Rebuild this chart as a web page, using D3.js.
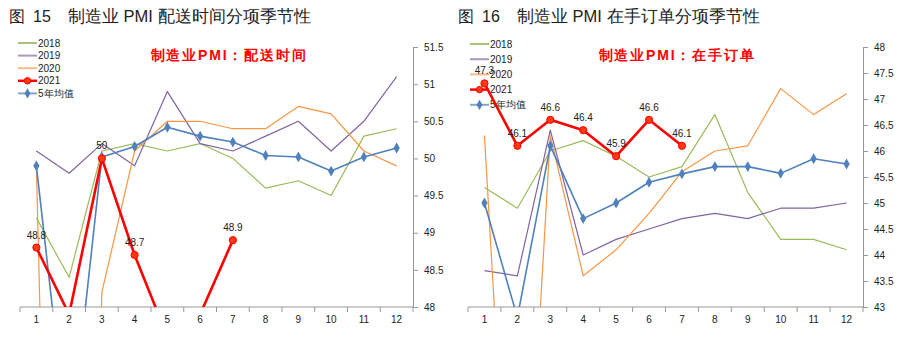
<!DOCTYPE html>
<html>
<head>
<meta charset="utf-8">
<script src="https://cdn.jsdelivr.net/npm/d3@7"></script>
<style>
  body { margin: 0; background: #fff; }
  svg { display: block; }
  text { font-family: "Liberation Sans", Arial, sans-serif; }
</style>
</head>
<body>
<svg id="chart" width="905" height="349"></svg>
<script>
// months on the x axis
var months = ["1","2","3","4","5","6","7","8","9","10","11","12"]
var seriesNames = ["2018","2019","2020","2021","5年均值"]

// PMI supplier delivery time (配送时间)
var delivery2018 = [49.2,48.4,50.1,50.2,50.1,50.2,50.0,49.6,49.7,49.5,50.3,50.4]
var delivery2019 = [50.1,49.8,50.2,49.9,50.9,50.2,50.1,50.3,50.5,50.1,50.5,51.1]
var delivery2020 = [49.9,32.1,48.2,50.1,50.5,50.5,50.4,50.4,50.7,50.6,50.1,49.9]
var delivery2021 = [48.8,47.9,50.0,48.7,47.6,47.9,48.9]
var deliveryAvg  = [49.9,46.0,50.02,50.16,50.42,50.3,50.22,50.04,50.02,49.83,50.02,50.14]
var deliveryTicks = [48,48.5,49,49.5,50,50.5,51,51.5]

// PMI backlog of orders (在手订单)
var backlog2018 = [45.3,44.9,46.0,46.2,45.9,45.5,45.7,46.7,45.2,44.3,44.3,44.1]
var backlog2019 = [43.7,43.6,46.4,44.0,44.3,44.5,44.7,44.8,44.7,44.9,44.9,45.0]
var backlog2020 = [46.3,35.3,46.3,43.6,44.1,44.8,45.6,46.0,46.1,47.2,46.7,47.1]
var backlog2021 = [47.3,46.1,46.6,46.4,45.9,46.6,46.1]
var backlogAvg  = [45.0,42.8,46.1,44.7,45.0,45.4,45.56,45.7,45.7,45.57,45.85,45.75]
var backlogTicks = [43,43.5,44,44.5,45,45.5,46,46.5,47,47.5,48]

var colors = ["#9bbb59","#8064a2","#f79646","#ff0000","#4f81bd"]
var legendColors = ["#a9c47a","#a898c0","#f9b98a","#ff0000","#86a6cf"]

var svg = d3.select("#chart")

function drawPanel(p) {
  var g = svg.append("g")
  var x = d3.scaleBand().domain(months).range([p.x0, p.x1])
  var y = d3.scaleLinear().domain(p.domain).range([p.yBottom, p.yTop])
  var cx = function(d,i){ return x(months[i]) + x.bandwidth()/2 }

  // titles
  g.append("text").attr("x", p.tx).attr("y", 22).attr("font-size", 16)
    .attr("font-family", "'Noto Sans CJK SC', sans-serif").attr("fill", "#222").text("图")
  g.append("text").attr("x", p.tx + 24).attr("y", 22).attr("font-size", 16)
    .attr("font-family", "'Noto Sans CJK SC', sans-serif").attr("fill", "#222").text(p.num)
  g.append("text").attr("x", p.tx + 59).attr("y", 22).attr("font-size", 16.5)
    .attr("font-family", "'Noto Sans CJK SC', sans-serif").attr("fill", "#222").text(p.title)
  g.append("text").attr("x", p.redX).attr("y", 60).attr("font-size", 14)
    .attr("text-anchor", "middle").attr("font-weight", "bold").attr("letter-spacing", "1.8px")
    .attr("font-family", "'Noto Sans CJK SC', sans-serif").attr("fill", "#ff0000").text(p.redTitle)

  // x axis
  var xa = g.append("g").attr("transform", "translate(0," + p.yBottom + ")")
  xa.append("line").attr("x1", p.x0).attr("x2", p.x1).attr("stroke", "#999")
  var edges = months.map(function(m){ return x(m) }).concat([p.x1])
  xa.selectAll(".tk").data(edges).enter().append("line")
    .attr("x1", function(d){ return d }).attr("x2", function(d){ return d })
    .attr("y1", 0).attr("y2", 5).attr("stroke", "#999")
  xa.selectAll(".lb").data(months).enter().append("text")
    .attr("x", function(d){ return x(d) + x.bandwidth()/2 }).attr("y", 16)
    .attr("text-anchor", "middle").attr("font-size", 10).attr("fill", "#222")
    .text(function(d){ return d })

  // right y axis
  var ya = d3.axisRight(y).tickValues(p.ticks).tickSize(5).tickPadding(6)
    .tickFormat(function(d){ return d3.format("~g")(d) })
  var yg = g.append("g").attr("transform", "translate(" + p.x1 + ",0)").call(ya)
  yg.select(".domain").attr("stroke", "#999")
  yg.selectAll(".tick line").attr("stroke", "#999")
  yg.selectAll(".tick text").attr("font-size", 10).attr("fill", "#222")
    .attr("font-family", "'Liberation Sans', Arial, sans-serif")

  // legend
  var lg = g.append("g")
  seriesNames.forEach(function(name, i) {
    var ly = p.legY + i * p.legStep
    lg.append("line").attr("x1", p.legX).attr("x2", p.legX + 19).attr("y1", ly).attr("y2", ly)
      .attr("stroke", legendColors[i]).attr("stroke-width", i == 3 ? 2.5 : 2)
    if (i == 3) lg.append("circle").attr("cx", p.legX + 9.5).attr("cy", ly).attr("r", 3.2)
      .attr("fill", "#ff3a10").attr("stroke", "#ff0000")
    if (i == 4) lg.append("path").attr("d", d3.symbol(d3.symbolDiamond, 30)())
      .attr("transform", "translate(" + (p.legX + 9.5) + "," + ly + ")").attr("fill", "#4f81bd")
    lg.append("text").attr("x", p.legX + 20).attr("y", ly + 3.5).attr("font-size", 10)
      .attr("fill", "#222").attr("font-family", "'Liberation Sans', 'Noto Sans CJK SC', sans-serif").text(name)
  })

  // series
  var clipId = "clip" + p.num
  g.append("clipPath").attr("id", clipId).append("rect")
    .attr("x", p.x0).attr("y", p.yTop - 20).attr("width", p.x1 - p.x0).attr("height", p.yBottom - p.yTop + 20)
  var plot = g.append("g").attr("clip-path", "url(#" + clipId + ")")
  var line = d3.line().x(cx).y(function(d){ return y(d) })
  var order = [0,1,2,4,3]
  order.forEach(function(k) {
    var data = p.series[k]
    plot.append("path").datum(data).attr("d", line).attr("fill", "none")
      .attr("stroke", colors[k]).attr("stroke-width", k == 3 ? 2.6 : (k == 4 ? 1.6 : 1.2))
      .attr("stroke-linejoin", "round")
    if (k == 4) {
      plot.selectAll(".dm" + k).data(data).enter().append("path")
        .attr("d", d3.symbol(d3.symbolDiamond, 34)())
        .attr("transform", function(d,i){ return "translate(" + cx(d,i) + "," + y(d) + ")" })
        .attr("fill", "#4f81bd")
    }
    if (k == 3) {
      plot.selectAll(".rd").data(data).enter().append("circle")
        .attr("cx", cx).attr("cy", function(d){ return y(d) }).attr("r", 3.6)
        .attr("fill", "#ff3a10").attr("stroke", "#ff0000").attr("stroke-width", 1)
      plot.selectAll(".rl").data(data.map(function(d,i){ return {v: d, i: i} })
          .filter(function(o){ return o.v >= p.domain[0] })).enter().append("text")
        .attr("x", function(o){ return cx(o.v, o.i) }).attr("y", function(o){ return y(o.v) - 9 })
        .attr("text-anchor", "middle").attr("font-size", 10).attr("fill", "#222")
        .text(function(o){ return d3.format("~g")(o.v) })
    }
  })
}

drawPanel({
  num: "15", tx: 9, title: "制造业 PMI 配送时间分项季节性", redTitle: "制造业PMI：配送时间", redX: 229,
  x0: 20, x1: 413, yTop: 47, yBottom: 307, domain: [48, 51.5], ticks: deliveryTicks,
  legX: 18, legY: 43, legStep: 12.6,
  series: [delivery2018, delivery2019, delivery2020, delivery2021, deliveryAvg]
})
drawPanel({
  num: "16", tx: 458, title: "制造业 PMI 在手订单分项季节性", redTitle: "制造业PMI：在手订单", redX: 677,
  x0: 468, x1: 863, yTop: 47, yBottom: 307, domain: [43, 48], ticks: backlogTicks,
  legX: 470, legY: 44, legStep: 15.2,
  series: [backlog2018, backlog2019, backlog2020, backlog2021, backlogAvg]
})
</script>
</body>
</html>
